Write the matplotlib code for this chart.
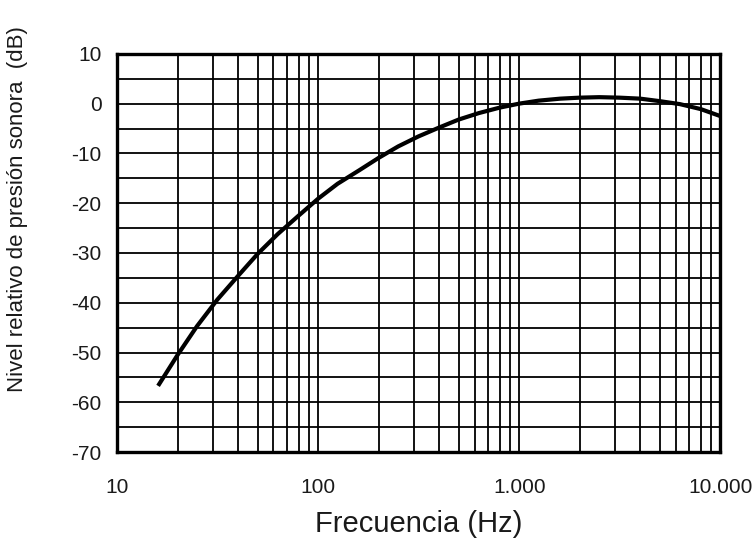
import matplotlib
matplotlib.use("Agg")
import matplotlib.pyplot as plt
from matplotlib.ticker import FixedLocator, FuncFormatter, NullFormatter

plt.rcParams['font.family'] = ['Liberation Sans', 'DejaVu Sans']
plt.rcParams['axes.unicode_minus'] = False

# Frequencies (Hz) and relative sound pressure level (dB)
freq_hz = [16, 20, 25, 31.5, 40, 50, 63, 80, 100, 125, 160, 200, 250, 315,
           400, 500, 630, 800, 1000, 1250, 1600, 2000, 2500, 3150, 4000,
           5000, 6300, 8000, 10000]
level_db = [-56.7, -50.5, -44.7, -39.4, -34.6, -30.2, -26.2, -22.5, -19.1,
            -16.1, -13.4, -10.9, -8.6, -6.6, -4.8, -3.2, -1.9, -0.8, 0.0,
            0.6, 1.0, 1.2, 1.3, 1.2, 1.0, 0.5, -0.1, -1.1, -2.5]

x_ticks = [10, 100, 1000, 10000]
x_tick_labels = ["10", "100", "1.000", "10.000"]
y_ticks = [10, 0, -10, -20, -30, -40, -50, -60, -70]
y_minor = [5, -5, -15, -25, -35, -45, -55, -65]
x_minor = [m * d for d in (10, 100, 1000) for m in range(2, 10)]

fig = plt.figure(figsize=(7.55, 5.44), dpi=100)
ax = fig.add_axes([0.155, 0.169, 0.799, 0.732])

ax.plot(freq_hz, level_db, color='black', lw=3.0, solid_capstyle='butt', zorder=3)

ax.set_xscale('log')
ax.set_xlim(10, 10000)
ax.set_ylim(-70, 10)

def xfmt(v, p):
    iv = int(round(v))
    return x_tick_labels[x_ticks.index(iv)] if iv in x_ticks else ""

ax.xaxis.set_major_locator(FixedLocator(x_ticks))
ax.xaxis.set_major_formatter(FuncFormatter(xfmt))
ax.xaxis.set_minor_locator(FixedLocator(x_minor))
ax.xaxis.set_minor_formatter(NullFormatter())
ax.yaxis.set_major_locator(FixedLocator(y_ticks))
ax.yaxis.set_minor_locator(FixedLocator(y_minor))

ax.grid(True, which='both', color='black', lw=1.3)
ax.set_axisbelow(True)
for s in ax.spines.values():
    s.set_linewidth(2.4)
    s.set_color('black')

ax.tick_params(which='both', length=0)
ax.tick_params(axis='x', labelsize=15, pad=19, colors='#1a1a1a')
ax.tick_params(axis='y', labelsize=15, pad=11, colors='#1a1a1a')

ax.set_xlabel("Frecuencia (Hz)", fontsize=21, labelpad=9, color='#1a1a1a')
ax.set_ylabel("Nivel relativo de presión sonora  (dB)", fontsize=16, color='#1a1a1a')
ax.yaxis.set_label_coords(-0.148, 0.61)

fig.savefig("out.png", dpi=100)
